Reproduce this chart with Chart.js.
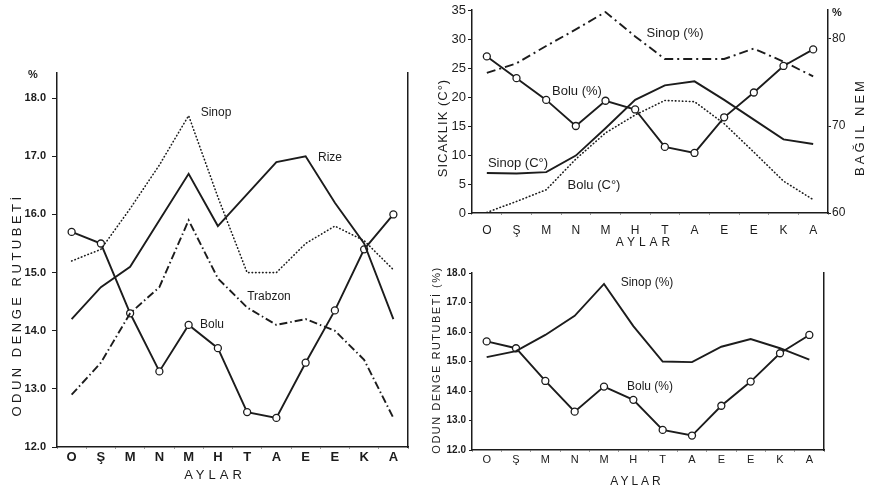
<!DOCTYPE html>
<html>
<head>
<meta charset="utf-8">
<script src="https://cdn.jsdelivr.net/npm/chart.js@4.4.1/dist/chart.umd.min.js"></script>
<style>
  html, body { margin: 0; padding: 0; background: #fff; }
  #wrap { position: relative; width: 869px; height: 493px; overflow: hidden; background: #fff; }
  canvas { position: absolute; }
</style>
</head>
<body>
<div id="wrap">
  <canvas id="odun" width="440" height="433" style="left:0;top:60px"></canvas>
  <canvas id="iklim" width="439" height="250" style="left:430px;top:0"></canvas>
  <canvas id="karsi" width="439" height="243" style="left:430px;top:250px"></canvas>
</div>
<script>
(function () {
    'use strict';

    const INK = '#1c1c1c';
    const FONT = "'Liberation Sans', Arial, sans-serif";

    // Months (Ekim .. Eylul)
    const MONTHS = ['O', 'Ş', 'M', 'N', 'M', 'H', 'T', 'A', 'E', 'E', 'K', 'A'];

    // Left panel: odun denge rutubeti (%)
    const RIZE = [14.2, 14.75, 15.1, 15.9, 16.7, 15.8, 16.35, 16.9, 17.0, 16.2, 15.5, 14.2];
    const SINOP = [15.2, 15.4, 16.1, 16.85, 17.7, 16.3, 15.0, 15.0, 15.5, 15.8, 15.55, 15.05];
    const TRABZON = [12.9, 13.45, 14.3, 14.75, 15.9, 14.9, 14.4, 14.1, 14.2, 14.0, 13.5, 12.5];
    const BOLU = [15.7, 15.5, 14.3, 13.3, 14.1, 13.7, 12.6, 12.5, 13.45, 14.35, 15.4, 16.0];
    const ODUN_TICKS = [12, 13, 14, 15, 16, 17, 18];

    // Top right: sicaklik (C) and bagil nem (%)
    const SINOP_TEMP = [6.9, 6.8, 7.05, 9.9, 14.6, 19.5, 22.0, 22.7, 19.5, 16.1, 12.7, 11.9];
    const BOLU_TEMP = [0.1, 2.0, 4.0, 9.3, 13.8, 16.9, 19.4, 19.2, 15.4, 10.5, 5.5, 2.3];
    const SINOP_NEM = [76.1, 77.2, 79.2, 81.1, 83.1, 80.3, 77.7, 77.7, 77.7, 78.9, 77.4, 75.7];
    const BOLU_NEM = [78.0, 75.5, 73.0, 70.0, 72.9, 71.9, 67.6, 66.9, 71.0, 73.85, 76.9, 78.8];
    const TEMP_TICKS = [0, 5, 10, 15, 20, 25, 30, 35];
    const NEM_TICKS = [60, 70, 80];

    // Bottom right: Sinop vs Bolu odun denge rutubeti
    const SINOP_ODR = [15.15, 15.35, 15.9, 16.55, 17.63, 16.2, 15.0, 14.98, 15.5, 15.76, 15.45, 15.06];
    const BOLU_ODR = [15.68, 15.45, 14.34, 13.3, 14.15, 13.7, 12.68, 12.49, 13.5, 14.32, 15.28, 15.9];
    const KARSI_TICKS = [12, 13, 14, 15, 16, 17, 18];

    Chart.defaults.font.family = FONT;
    Chart.defaults.color = INK;

    // free text: series names, axis titles
    const notesPlugin = {
        id: 'notes',
        afterDraw(chart, args, opts) {
            const ctx = chart.ctx;
            (opts.items || []).forEach(n => {
                ctx.save();
                ctx.font = (n.bold ? 'bold ' : '') + n.size + 'px ' + FONT;
                ctx.fillStyle = INK;
                ctx.textAlign = 'center';
                ctx.textBaseline = 'middle';
                if ('letterSpacing' in ctx) ctx.letterSpacing = (n.sp || 0) + 'px';
                ctx.translate(n.x, n.y);
                if (n.rot) ctx.rotate(n.rot);
                ctx.fillText(n.text, 0, 0);
                ctx.restore();
            });
        }
    };

    const SOLID = {};
    const DOTTED = { borderDash: [0.5, 3], borderCapStyle: 'round', borderWidth: 1.6 };
    const DASHDOT = { borderDash: [8, 3, 1.5, 3] };
    const CIRCLES = { pointRadius: 3.5, pointBackgroundColor: '#fff', pointBorderColor: INK, pointBorderWidth: 1.3 };

    function line(label, data, style, extra) {
        return Object.assign({
            label: label, data: data, borderColor: INK, borderWidth: 1.9,
            pointRadius: 0, tension: 0, fill: false
        }, style, extra || {});
    }

    // small marks between the months, like the original's axis dots
    function monthAxis(size, bold, pad, height) {
        return {
            type: 'category', offset: true,
            grid: { display: true, offset: true, drawOnChartArea: false, drawTicks: true, tickLength: 2, color: '#999' },
            border: { display: true, color: INK, width: 1.5 },
            ticks: { color: INK, font: { size: size, weight: bold ? 'bold' : 'normal' }, padding: pad, maxRotation: 0, autoSkip: false },
            afterFit(s) { s.height = height; }
        };
    }

    function valueAxis(pos, min, max, vals, fmt, size, bold, tl, pad, width) {
        return {
            position: pos, min: min, max: max,
            afterBuildTicks(s) { s.ticks = vals.map(v => ({ value: v })); },
            grid: { drawOnChartArea: false, drawTicks: true, tickLength: tl, color: INK },
            border: { display: true, color: INK, width: 1.5 },
            ticks: { color: INK, font: { size: size, weight: bold ? 'bold' : 'normal' }, padding: pad, callback: fmt },
            afterFit(s) { s.width = width; }
        };
    }

    function edgeAxis(width) {
        return {
            position: 'right', min: 0, max: 1,
            grid: { drawOnChartArea: false, drawTicks: false },
            border: { display: true, color: INK, width: 1.5 },
            ticks: { display: false },
            afterFit(s) { s.width = width; }
        };
    }

    function baseOptions(padding, scales, notes) {
        return {
            responsive: false, animation: false, events: [],
            layout: { padding: padding },
            plugins: { legend: { display: false }, tooltip: { enabled: false }, notes: { items: notes } },
            scales: scales
        };
    }

    const fmt1 = v => v.toFixed(1);
    const HALF = -Math.PI / 2;

    // Left panel
    new Chart(document.getElementById('odun'), {
        type: 'line',
        data: {
            labels: MONTHS,
            datasets: [
                line('Rize', RIZE, SOLID),
                line('Sinop', SINOP, DOTTED),
                line('Trabzon', TRABZON, DASHDOT),
                line('Bolu', BOLU, CIRCLES)
            ]
        },
        options: baseOptions({ top: 10, right: 32, left: 0, bottom: 0 }, {
            x: monthAxis(13, true, 1, 46),
            y: valueAxis('left', 12, 18.44, ODUN_TICKS, fmt1, 11, true, 5, 6, 57),
            y1: edgeAxis(0)
        }, [
            { text: '%', x: 33, y: 15, size: 11, bold: true },
            { text: 'ODUN DENGE RUTUBETİ', x: 17, y: 245, size: 13, rot: HALF, sp: 3.5 },
            { text: 'AYLAR', x: 215, y: 415, size: 13, sp: 4 },
            { text: 'Sinop', x: 216, y: 53, size: 12 },
            { text: 'Rize', x: 330, y: 98, size: 12 },
            { text: 'Trabzon', x: 269, y: 237, size: 12 },
            { text: 'Bolu', x: 212, y: 265, size: 12 }
        ]),
        plugins: [notesPlugin]
    });

    // Top right panel
    new Chart(document.getElementById('iklim'), {
        type: 'line',
        data: {
            labels: MONTHS,
            datasets: [
                line('Sinop (C°)', SINOP_TEMP, SOLID, { yAxisID: 'y' }),
                line('Bolu (C°)', BOLU_TEMP, DOTTED, { yAxisID: 'y' }),
                line('Sinop (%)', SINOP_NEM, DASHDOT, { yAxisID: 'y1', borderDash: [9, 4, 2, 4] }),
                line('Bolu (%)', BOLU_NEM, CIRCLES, { yAxisID: 'y1' })
            ]
        },
        options: baseOptions({ top: 10, right: 0, left: 0, bottom: 0 }, {
            x: monthAxis(12, false, 8, 37),
            y: valueAxis('left', 0, 35, TEMP_TICKS, v => v, 13, false, 4, 2, 42),
            y1: valueAxis('right', 60, 60 + 35 * 10 / 15, NEM_TICKS, v => v, 12, false, 3, 1, 41)
        }, [
            { text: 'SICAKLIK (C°)', x: 13, y: 128, size: 13, rot: HALF, sp: 1 },
            { text: 'BAĞIL NEM', x: 430, y: 127, size: 13, rot: HALF, sp: 3 },
            { text: '%', x: 407, y: 13, size: 11, bold: true },
            { text: 'AYLAR', x: 215, y: 243, size: 12, sp: 4 },
            { text: 'Sinop (%)', x: 245, y: 33, size: 13 },
            { text: 'Bolu (%)', x: 147, y: 91, size: 13 },
            { text: 'Sinop (C°)', x: 88, y: 163, size: 13 },
            { text: 'Bolu (C°)', x: 164, y: 185, size: 13 }
        ]),
        plugins: [notesPlugin]
    });

    // Bottom right panel
    new Chart(document.getElementById('karsi'), {
        type: 'line',
        data: {
            labels: MONTHS,
            datasets: [
                line('Sinop (%)', SINOP_ODR, SOLID),
                line('Bolu (%)', BOLU_ODR, CIRCLES)
            ]
        },
        options: baseOptions({ top: 23, right: 0, left: 0, bottom: 0 }, {
            x: monthAxis(11, false, 1.5, 43),
            y: valueAxis('left', 12, 18, KARSI_TICKS, fmt1, 10, true, 3, 3, 42),
            y1: edgeAxis(45)
        }, [
            { text: 'ODUN DENGE RUTUBETİ (%)', x: 7, y: 110, size: 11, rot: HALF, sp: 1.5 },
            { text: 'AYLAR', x: 207, y: 232, size: 12, sp: 3 },
            { text: 'Sinop (%)', x: 217, y: 33, size: 12 },
            { text: 'Bolu (%)', x: 220, y: 137, size: 12 }
        ]),
        plugins: [notesPlugin]
    });
})();
</script>
</body>
</html>
